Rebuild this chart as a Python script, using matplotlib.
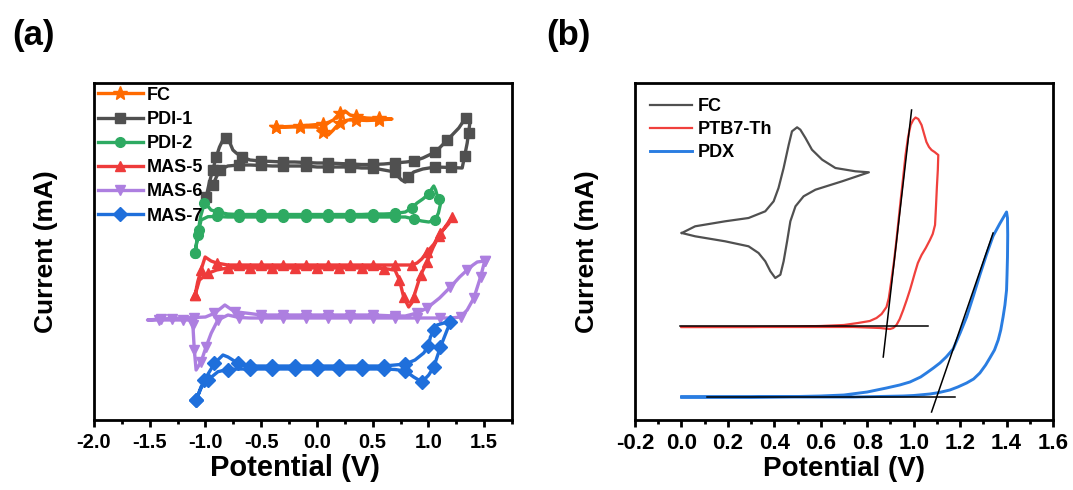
import matplotlib
matplotlib.use("Agg")
import matplotlib.pyplot as plt
import numpy as np

plt.rcParams['font.family'] = ['Liberation Sans', 'DejaVu Sans']
plt.rcParams['font.weight'] = 'bold'

# ---------------- panel (a) data (current in arbitrary, offset units) ----------------
fc_a_x = [-0.363, -0.25, -0.153, -0.05, 0.057, 0.11, 0.147, 0.18, 0.207, 0.252, 0.297, 0.35,
          0.447, 0.56, 0.673, 0.56, 0.447, 0.35, 0.282, 0.24, 0.207, 0.17, 0.147, 0.102,
          0.08, 0.057, 0.02, -0.003, -0.153, -0.25, -0.363]
fc_a_y = [293, 293.5, 294, 295, 296, 298, 300, 304, 307, 309, 305, 303.5,
          302, 301.5, 301, 300, 299.5, 300, 300, 299, 297, 293, 290, 285,
          286, 288, 291, 293, 293, 293, 293]

pdi1_x = [-0.994, -0.964, -0.934, -0.904, -0.874, -0.844, -0.814, -0.784, -0.754, -0.724,
          -0.674, -0.6, -0.5, -0.4, -0.3, -0.2, -0.1, 0.0, 0.1, 0.2,
          0.3, 0.4, 0.5, 0.6, 0.7, 0.8, 0.868, 0.95, 1.063, 1.17,
          1.273, 1.333, 1.36, 1.372, 1.36, 1.348, 1.325, 1.303, 1.2, 1.063,
          0.95, 0.868, 0.82, 0.793, 0.76, 0.733, 0.7, 0.6, 0.5, 0.4,
          0.3, 0.2, 0.1, 0.0, -0.1, -0.2, -0.3, -0.4, -0.5, -0.6,
          -0.7, -0.8, -0.874, -0.934, -0.994]
pdi1_y = [223, 238, 250, 263, 273, 280, 282, 278, 270, 267,
          263, 260, 259, 258.5, 258, 258, 257.5, 257, 257, 256.5,
          256, 255.5, 255.5, 256, 257, 258, 259, 262, 268, 280,
          292, 302, 303, 297, 287, 277, 264, 252, 252.5, 253,
          251, 248, 243, 238, 240, 243, 248, 250, 252, 252,
          253, 253, 253, 253, 254, 254, 254, 254, 254.5, 255,
          255, 254, 250, 235, 225]

pdi2_x = [-1.093, -1.07, -1.045, -1.009, -0.98, -0.95, -0.888, -0.8,
          -0.7, -0.6, -0.5, -0.4, -0.3, -0.2, -0.1, 0.0, 0.1, 0.2, 0.3, 0.4, 0.5, 0.6, 0.7,
          0.793, 0.85, 0.898, 0.95, 1.003, 1.035, 1.048, 1.065, 1.08, 1.093, 1.108,
          1.09, 1.06, 1.003, 0.94, 0.868, 0.793,
          0.7, 0.6, 0.5, 0.4, 0.3, 0.2, 0.1, 0.0, -0.1, -0.2, -0.3, -0.4, -0.5, -0.6, -0.7, -0.8,
          -0.9, -0.978, -1.039, -1.06, -1.075, -1.093]
pdi2_y = [167, 185, 203, 217, 214, 210, 208, 206,
          205.5, 205.5, 205.5, 205.5, 205.5, 205.5, 205.5, 205.5, 205.5, 205.5, 205.5, 205.5, 206, 206, 206.5,
          208, 212, 217, 221, 226, 232, 234, 230, 224, 221, 216,
          207, 200, 198, 199, 201, 203,
          203, 203, 203, 203, 203, 203, 203, 203, 203, 203, 203, 203, 203, 203, 203, 203,
          203.5, 203.3, 200, 190, 180, 167]

mas5_x = [-1.093, -1.054, -0.978, -0.9, -0.8,
          -0.7, -0.6, -0.5, -0.4, -0.3, -0.2, -0.1, 0.0, 0.1, 0.2, 0.3, 0.4, 0.5, 0.6,
          0.7, 0.74, 0.778, 0.823, 0.85, 0.868, 0.93, 0.988, 1.04, 1.093, 1.15, 1.213,
          1.18, 1.108, 1.05, 0.988, 0.94, 0.898, 0.85, 0.793,
          0.7, 0.6, 0.5, 0.4, 0.3, 0.2, 0.1, 0.0, -0.1, -0.2, -0.3, -0.4, -0.5, -0.6, -0.7, -0.8,
          -0.9, -0.95, -1.003, -1.04, -1.07, -1.093]
mas5_y = [125, 140, 146.7, 150, 152,
          152, 152, 152, 152, 152, 152, 152, 152, 152, 152, 152, 152, 152, 151.5,
          150, 140, 123, 113, 117, 123, 145, 158, 172, 184, 193, 203,
          196, 187, 176, 168, 161, 157, 155, 155,
          155, 155, 155, 155, 155, 155, 155, 155, 155, 155, 155, 155, 155, 155, 155, 155,
          157, 159, 163, 150, 138, 125]

mas6_x = [1.505, 1.468, 1.408, 1.348, 1.288, 1.2, 1.1, 0.988,
          0.9, 0.8, 0.7, 0.6, 0.5, 0.4, 0.3, 0.2, 0.1, 0.0, -0.1, -0.2, -0.3, -0.4, -0.5, -0.6, -0.7,
          -0.798, -0.889, -0.949, -0.994, -1.039, -1.084, -1.10, -1.113, -1.13, -1.2, -1.3, -1.414, -1.52,
          -1.4, -1.3, -1.2, -1.1, -1.0, -0.919, -0.826, -0.739, -0.618,
          -0.5, -0.4, -0.3, -0.2, -0.1, 0.0, 0.1, 0.2, 0.3, 0.4, 0.5, 0.6, 0.7,
          0.793, 0.9, 0.988, 1.1, 1.198, 1.28, 1.348, 1.4, 1.438, 1.505]
mas6_y = [159, 143, 122, 110, 103, 102, 102, 102,
          102, 102, 102, 102, 102, 102, 102, 102, 102, 102, 102, 102, 102, 102, 102, 102, 102.5,
          105, 100, 86.7, 73.3, 58.3, 50, 70, 95, 100, 100, 100, 100, 100,
          101, 101.5, 102, 102.5, 103, 106.7, 115, 108.3, 106.7,
          105, 105, 105, 105, 105, 105, 105, 105, 105, 105, 105, 104.5, 104,
          104, 107, 112, 122, 133, 143, 150, 155, 158, 159]

mas7_x = [-1.084, -1.009, -0.919, -0.843, -0.798, -0.708,
          -0.6, -0.5, -0.4, -0.3, -0.2, -0.1, 0.0, 0.1, 0.2, 0.3, 0.4, 0.5, 0.6, 0.7,
          0.793, 0.88, 0.958, 1.0, 1.018, 1.05, 1.078, 1.14, 1.198,
          1.168, 1.108, 1.048, 1.003, 0.943, 0.868, 0.793,
          0.7, 0.6, 0.5, 0.4, 0.3, 0.2, 0.1, 0.0, -0.1, -0.2, -0.3, -0.4, -0.5, -0.6, -0.7, -0.8,
          -0.888, -0.978, -1.039, -1.084]
mas7_y = [20, 40, 56.7, 65, 63, 56.7,
          54, 54, 54, 54, 54, 54, 54, 54, 54, 54, 54, 54, 54, 55,
          56, 60, 67, 74, 83, 90, 95, 97, 98,
          90, 73, 53, 45, 38, 43, 49,
          50.5, 51, 51, 51, 51, 51, 51, 51, 51, 51, 51, 51, 51, 51, 51, 50.5,
          48.3, 40, 33.3, 20]

labels_a = ['FC', 'PDI-1', 'PDI-2', 'MAS-5', 'MAS-6', 'MAS-7']
colors_a = ['#FF6A00', '#505050', '#2EAA62', '#EE3B3B', '#AD7FE0', '#1F6FDB']
markers_a = ['*', 's', 'o', '^', 'v', 'D']

# ---------------- panel (b) data ----------------
fc_b_x = [0.0015, 0.059, 0.188, 0.289, 0.332, 0.361, 0.383, 0.404, 0.426, 0.440,
          0.455, 0.469, 0.491, 0.526, 0.577, 0.692, 0.807, 0.749, 0.663, 0.606,
          0.562, 0.534, 0.512, 0.498, 0.476, 0.462, 0.440, 0.418, 0.397, 0.361,
          0.289, 0.188, 0.059, 0.0015]
fc_b_y = [187, 183.7, 178.7, 173.7, 167, 158.7, 148.7, 142, 145.3, 158.7,
          178.7, 198.7, 213.7, 223.7, 230.3, 238.7, 247.7, 248.7, 252, 260.3,
          270.3, 282, 290.3, 292.7, 288.7, 275.3, 252, 232, 218.7, 208.7,
          202, 198.7, 193.7, 187]

ptb_x = [0.001, 0.3, 0.5, 0.6, 0.7, 0.76, 0.811, 0.84, 0.862, 0.883,
         0.893, 0.903, 0.915, 0.925, 0.935, 0.945, 0.955, 0.965, 0.976, 0.987,
         0.998, 1.008, 1.02, 1.034, 1.045, 1.055, 1.066, 1.077, 1.09, 1.106,
         1.104, 1.100, 1.096, 1.092, 1.082, 1.070, 1.052, 1.034, 1.018, 1.005,
         0.994, 0.984, 0.97, 0.955, 0.94, 0.926, 0.912, 0.898, 0.875, 0.855,
         0.8, 0.740, 0.453, 0.001]
ptb_y = [93, 93, 93.5, 94, 95, 97, 99, 102, 106, 113,
         122, 138, 158, 178, 200, 222, 243, 265, 283, 295,
         300, 302.5, 301, 295, 286, 278, 273, 270, 268, 265,
         250, 233, 213, 195, 186, 180, 172, 165, 157, 147,
         138, 130, 120, 110, 101, 95, 92, 91, 91.5, 92,
         92.5, 93, 93, 93]

pdx_x = [0.001, 0.3, 0.5, 0.6, 0.7, 0.8, 0.883, 0.94, 0.984, 1.03,
         1.055, 1.085, 1.113, 1.14, 1.17, 1.2, 1.228, 1.257, 1.285, 1.313,
         1.342, 1.37, 1.400,
         1.404, 1.405, 1.404, 1.402, 1.400, 1.393, 1.385, 1.375, 1.364, 1.348,
         1.328, 1.31, 1.285, 1.258, 1.228, 1.19, 1.156, 1.11, 1.07, 1.0,
         0.955, 0.85, 0.740, 0.4, 0.001]
pdx_y = [23, 23, 23.5, 24, 25, 28, 32, 35, 38, 43,
         47, 52, 57, 63, 71, 87, 103, 124, 145, 165,
         184, 196, 208,
         202, 185, 163, 145, 130, 115, 103, 90, 80, 70,
         62, 55, 47, 41, 37, 33, 30, 27.5, 26, 24.5,
         24, 23.5, 23, 23, 23]

# onset tangent / baseline lines
ptb_tan_x = [0.869, 0.991]
ptb_tan_y = [63, 310]
ptb_base_x = [-0.006, 1.063]
ptb_base_y = [94, 94]
pdx_tan_x = [1.077, 1.342]
pdx_tan_y = [8, 187]
pdx_base_x = [0.108, 1.177]
pdx_base_y = [23, 23]

labels_b = ['FC', 'PTB7-Th', 'PDX']
colors_b = ['#505050', '#F0403C', '#2A7DE1']

xticks_a = [-2.0, -1.5, -1.0, -0.5, 0.0, 0.5, 1.0, 1.5]
xticks_b = [-0.2, 0.0, 0.2, 0.4, 0.6, 0.8, 1.0, 1.2, 1.4, 1.6]

# ---------------- figure ----------------
W, H = 1073, 490
fig = plt.figure(figsize=(W / 100, H / 100), dpi=100)
axA = fig.add_axes([94 / W, 70 / H, 418 / W, 337 / H])
axB = fig.add_axes([635 / W, 70 / H, 418 / W, 337 / H])


def style(ax, xlim, xticks, minor_step, fs, lfs):
    ax.set_xlim(*xlim)
    ax.set_ylim(0, 337)
    ax.set_yticks([])
    ax.set_xticks(xticks)
    ax.set_xticklabels([f'{t:.1f}' for t in xticks], fontsize=fs, fontweight='bold')
    mn = np.arange(xlim[0], xlim[1] + 1e-9, minor_step)
    ax.set_xticks(mn, minor=True)
    ax.tick_params(axis='x', which='major', direction='out', length=5, width=2, pad=4)
    ax.tick_params(axis='x', which='minor', direction='out', length=3, width=2)
    for s in ax.spines.values():
        s.set_linewidth(2)
    ax.set_xlabel('Potential (V)', fontsize=lfs, fontweight='bold', labelpad=2)
    ax.set_ylabel('Current (mA)', fontsize=19, fontweight='bold', labelpad=26)


series_a = [(fc_a_x, fc_a_y), (pdi1_x, pdi1_y), (pdi2_x, pdi2_y),
            (mas5_x, mas5_y), (mas6_x, mas6_y), (mas7_x, mas7_y)]
for (xs, ys), lab, c, m in zip(series_a, labels_a, colors_a, markers_a):
    ms = 10 if m == '*' else 7
    axA.plot(xs, ys, color=c, lw=2.4, marker=m, ms=ms, markevery=0.041,
             label=lab, solid_joinstyle='round')

style(axA, (-2.0, 1.75), xticks_a, 0.25, 14.5, 21)
axA.xaxis.label.set_x(0.482)
axA.legend(loc='upper left', frameon=False, handlelength=2.5,
           handletextpad=0.2, labelspacing=0.4, borderaxespad=0.0,
           borderpad=0.2, prop={'weight': 'bold', 'size': 13})

axB.plot(fc_b_x, fc_b_y, color=colors_b[0], lw=1.6, label=labels_b[0])
axB.plot(ptb_x, ptb_y, color=colors_b[1], lw=1.6, label=labels_b[1])
axB.plot(pdx_x, pdx_y, color=colors_b[2], lw=2.1, label=labels_b[2])
axB.plot(ptb_tan_x, ptb_tan_y, color='black', lw=1.1)
axB.plot(ptb_base_x, ptb_base_y, color='black', lw=1.1)
axB.plot(pdx_tan_x, pdx_tan_y, color='black', lw=1.1)
axB.plot(pdx_base_x, pdx_base_y, color='black', lw=1.1)

style(axB, (-0.2, 1.6), xticks_b, 0.1, 16, 20)
axB.legend(loc='upper left', frameon=False, handlelength=2.3,
           handletextpad=0.3, labelspacing=0.33, borderaxespad=0.55,
           borderpad=0.3, prop={'weight': 'bold', 'size': 13})

fig.text(12 / W, 1 - 35 / H, '(a)', fontsize=25, fontweight='bold', va='center', ha='left')
fig.text(546 / W, 1 - 35 / H, '(b)', fontsize=25, fontweight='bold', va='center', ha='left')

fig.savefig('out.png', dpi=100)
